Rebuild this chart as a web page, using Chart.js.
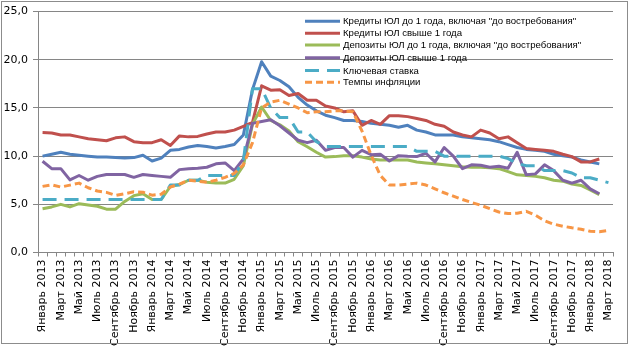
<!DOCTYPE html>
<html><head><meta charset="utf-8">
<script src="https://cdn.jsdelivr.net/npm/chart.js@4.4.1/dist/chart.umd.min.js"></script>
<style>html,body{margin:0;padding:0;background:#fff;}canvas{display:block;}</style>
</head><body>
<canvas id="c" width="631" height="347"></canvas>
<script>
const categories = [
 'Январь 2013','Февраль 2013','Март 2013','Апрель 2013','Май 2013','Июнь 2013','Июль 2013','Август 2013','Сентябрь 2013','Октябрь 2013','Ноябрь 2013','Декабрь 2013',
 'Январь 2014','Февраль 2014','Март 2014','Апрель 2014','Май 2014','Июнь 2014','Июль 2014','Август 2014','Сентябрь 2014','Октябрь 2014','Ноябрь 2014','Декабрь 2014',
 'Январь 2015','Февраль 2015','Март 2015','Апрель 2015','Май 2015','Июнь 2015','Июль 2015','Август 2015','Сентябрь 2015','Октябрь 2015','Ноябрь 2015','Декабрь 2015',
 'Январь 2016','Февраль 2016','Март 2016','Апрель 2016','Май 2016','Июнь 2016','Июль 2016','Август 2016','Сентябрь 2016','Октябрь 2016','Ноябрь 2016','Декабрь 2016',
 'Январь 2017','Февраль 2017','Март 2017','Апрель 2017','Май 2017','Июнь 2017','Июль 2017','Август 2017','Сентябрь 2017','Октябрь 2017','Ноябрь 2017','Декабрь 2017',
 'Январь 2018','Февраль 2018','Март 2018'];

const seriesNames = [
 'Кредиты ЮЛ до 1 года, включая "до востребования"',
 'Кредиты ЮЛ свыше 1 года',
 'Депозиты ЮЛ до 1 года, включая "до востребования"',
 'Депозиты ЮЛ свыше 1 года',
 'Ключевая ставка',
 'Темпы инфляции'];

const loansShort = [10.0,10.2,10.4,10.2,10.1,10.0,9.9,9.9,9.85,9.8,
 9.85,10.1,9.5,9.8,10.6,10.7,
 10.95,11.1,11.0,10.85,11.0,11.2,12.2,16.9,19.8,18.3,17.85,17.2,16.1,15.3,14.7,14.25,
 14.0,13.7,13.7,13.6,13.4,13.3,13.2,13.0,13.2,12.7,12.5,12.2,12.2,12.2,12.0,11.9,
 11.8,11.7,11.5,11.2,10.9,10.7,10.6,10.5,10.2,10.05,9.9,9.6,9.4,9.2];

const loansLong = [12.45,12.4,12.2,12.2,12.0,11.8,11.7,11.6,11.9,12.0,
 11.5,11.4,11.4,11.7,11.1,12.1,
 12.0,12.05,12.3,12.5,12.5,12.7,13.1,13.5,17.3,16.85,16.9,16.3,16.5,15.8,15.8,15.2,
 15.0,14.6,14.7,13.2,13.7,13.3,14.2,14.2,14.1,13.9,13.7,13.3,13.1,12.5,12.2,12.0,
 12.7,12.4,11.8,12.0,11.4,10.8,10.7,10.6,10.5,10.2,9.95,9.4,9.4,9.7];

const depositsShort = [4.55,4.73,5.0,4.73,5.07,4.93,4.8,4.5,4.5,5.3,
 5.9,6.1,5.5,5.5,6.85,7.05,
 7.5,7.5,7.3,7.2,7.2,7.6,9.0,13.3,15.1,13.7,13.25,12.6,11.5,10.98,10.4,9.9,
 9.95,10.05,10.05,9.9,9.7,9.6,9.6,9.6,9.6,9.4,9.3,9.2,9.1,9.0,8.9,8.85,
 8.85,8.8,8.7,8.4,8.06,8.0,7.9,7.75,7.5,7.4,7.1,6.96,6.5,6.0];

const depositsLong = [9.47,8.7,8.7,7.54,7.99,7.5,7.9,8.1,8.1,8.1,
 7.8,8.1,8.0,7.9,7.8,8.6,
 8.7,8.75,8.85,9.2,9.3,8.5,9.7,13.4,13.6,13.77,13.15,12.4,11.65,11.4,11.65,10.6,
 10.9,10.9,9.9,10.6,10.15,10.2,9.5,10.05,9.98,9.95,10.3,9.4,10.9,10.0,8.7,9.1,
 9.05,8.85,8.95,8.75,10.4,8.06,8.16,9.1,8.5,7.5,7.2,7.5,6.6,6.1];

const keyRate = [5.5,5.5,5.5,5.5,5.5,5.5,5.5,5.5,5.5,5.5,5.5,5.5,
 5.5,5.5,7.0,7.0,7.5,7.5,8.0,8.0,8.0,8.0,9.5,17.0,
 17.0,15.0,14.0,14.0,12.5,12.5,11.5,11.0,11.0,11.0,11.0,11.0,
 11.0,11.0,11.0,11.0,11.0,10.5,10.5,10.5,10.0,10.0,10.0,10.0,
 10.0,10.0,10.0,9.75,9.25,9.0,9.0,8.5,8.5,8.5,8.25,7.75,
 7.75,7.5,7.25];

const inflation = [6.86,7.03,6.79,6.99,7.2,6.72,6.38,6.24,5.93,6.1,
 6.3,6.25,5.95,6.05,6.8,7.1,
 7.5,7.4,7.3,7.5,7.8,8.2,9.1,11.4,15.0,15.6,15.8,15.4,15.0,14.5,14.6,14.6,
 14.7,14.7,14.6,12.6,10.1,8.0,7.0,7.0,7.1,7.2,7.0,6.6,6.2,5.85,5.5,5.2,
 4.9,4.55,4.2,4.04,4.07,4.28,3.87,3.3,2.94,2.73,2.56,2.42,2.2,2.15,2.3];

const colors = ['#4F81BD','#C0504D','#9BBB59','#8064A2','#4BACC6','#F79646'];
const dashes = [[],[],[],[],[14,8],[7,4]];
const seriesData = [loansShort, loansLong, depositsShort, depositsLong, keyRate, inflation];

const datasets = seriesData.map((d,i)=>({
  label: seriesNames[i], data: d, borderColor: colors[i], backgroundColor: colors[i],
  borderWidth: 3, pointRadius: 0, fill: false, tension: 0,
  borderDash: dashes[i], order: 6 - i, borderCapStyle: 'butt', borderJoinStyle: 'round'
}));

const bgBorder = {
  id: 'bgBorder',
  beforeDraw(chart){ const c=chart.ctx; c.save(); c.fillStyle='#fff'; c.fillRect(0,0,chart.width,chart.height); c.restore(); },
  afterDraw(chart){ const c=chart.ctx; c.save(); c.strokeStyle='#8c8c8c'; c.lineWidth=1; c.strokeRect(1.5,1.5,626,342); c.restore(); }
};

const inlineLegend = {
  id: 'inlineLegend',
  afterDatasetsDraw(chart){
    const c = chart.ctx;
    const x0 = 305, x1 = 340, tx = 343;
    const ys = [21.3, 33.3, 45, 57.7, 70.5, 82.3];
    chart.data.datasets.forEach((ds,i)=>{
      c.save();
      c.strokeStyle = ds.borderColor; c.lineWidth = 3; c.lineCap = 'butt';
      c.setLineDash(ds.borderDash || []);
      c.beginPath(); c.moveTo(x0, ys[i]); c.lineTo(x1, ys[i]); c.stroke();
      c.setLineDash([]);
      c.fillStyle = '#000'; c.font = '9.6px "Liberation Sans", Arial, sans-serif';
      c.textBaseline = 'middle'; c.textAlign = 'left';
      c.fillText(ds.label, tx, ys[i] + 0.5);
      c.restore();
    });
  }
};

new Chart(document.getElementById('c'), {
  type: 'line',
  data: { labels: categories, datasets },
  options: {
    responsive: false, animation: false, devicePixelRatio: 1,
    layout: { padding: { top: 10, right: 18, left: 0, bottom: 0 } },
    plugins: { legend: { display: false }, tooltip: { enabled: false } },
    scales: {
      x: {
        type: 'category', offset: true,
        ticks: {
          autoSkip: false, maxRotation: 90, minRotation: 90, padding: 3, color: '#000',
          font: { family: 'DejaVu Sans', size: 11 },
          callback(v, i){ return i % 2 === 0 ? this.getLabelForValue(v) : ''; }
        },
        grid: { display: true, drawOnChartArea: false, offset: true, tickLength: 4, color: '#868686' },
        border: { color: '#868686', width: 1 },
        afterFit(s){ s.height = 94.5; }
      },
      y: {
        min: 0, max: 25,
        ticks: { stepSize: 5, padding: 5, color: '#000', font: { family: 'DejaVu Sans', size: 11 },
          callback: v => v.toFixed(1).replace('.', ',') },
        grid: { color: '#868686', lineWidth: 1, tickLength: 5 },
        border: { color: '#868686', width: 1 },
        afterFit(s){ s.width = 38; }
      }
    }
  },
  plugins: [bgBorder, inlineLegend]
});
</script>
</body></html>
